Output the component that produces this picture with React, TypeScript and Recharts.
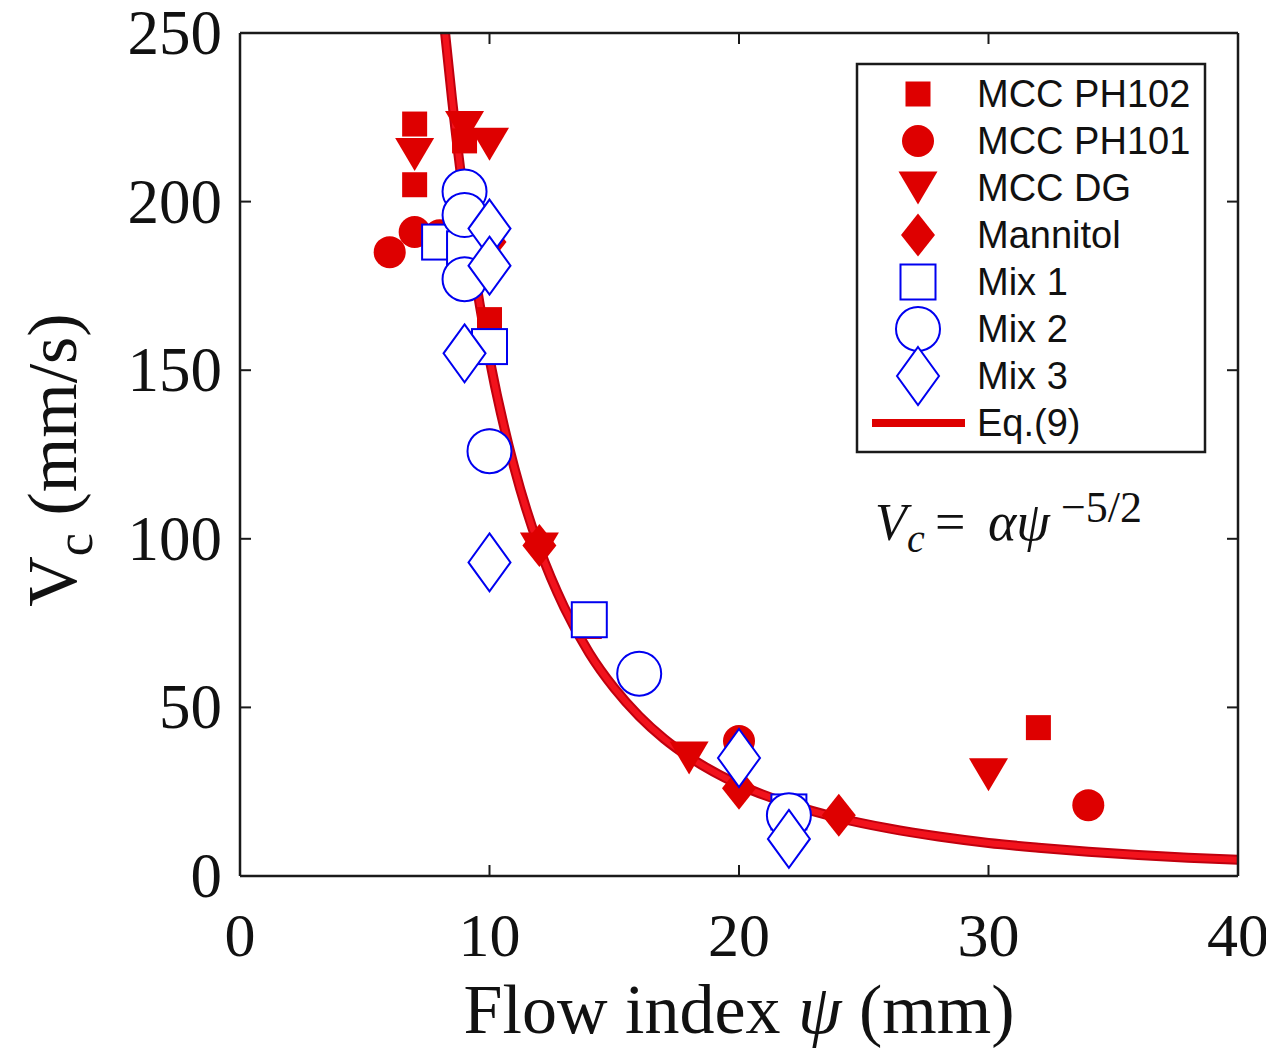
import React from "react";
import { ComposedChart, Scatter, Line, XAxis, YAxis } from "recharts";

// ---------- data ----------
const xTicks = [0, 10, 20, 30, 40];
const yTicks = [0, 50, 100, 150, 200, 250];

const mccPH102 = [
  { x: 7, y: 223 }, { x: 7, y: 205 }, { x: 9, y: 218 }, { x: 10, y: 165 },
  { x: 14, y: 74 }, { x: 32, y: 44 },
];
const mccPH101 = [
  { x: 6, y: 185 }, { x: 7, y: 191 }, { x: 8, y: 190 }, { x: 10, y: 128 },
  { x: 20, y: 40 }, { x: 34, y: 21 },
];
const mccDG = [
  { x: 7, y: 214 }, { x: 9, y: 222 }, { x: 10, y: 217 }, { x: 12, y: 97 },
  { x: 18, y: 35 }, { x: 30, y: 30 },
];
const mannitol = [
  { x: 10, y: 188 }, { x: 12, y: 98 }, { x: 20, y: 26 }, { x: 24, y: 18 },
];
const mix1 = [
  { x: 8, y: 188 }, { x: 9, y: 186 }, { x: 10, y: 157 }, { x: 14, y: 76 }, { x: 22, y: 19 },
];
const mix2 = [
  { x: 9, y: 203 }, { x: 9, y: 196 }, { x: 9, y: 177 }, { x: 10, y: 126 },
  { x: 16, y: 60 }, { x: 22, y: 18 },
];
const mix3 = [
  { x: 10, y: 192 }, { x: 10, y: 181 }, { x: 9, y: 155 }, { x: 10, y: 93 },
  { x: 20, y: 35 }, { x: 22, y: 11 },
];

// Eq.(9) curve, points
const curvePsi = [8.22, 8.5, 9, 9.5, 10, 11, 12, 13, 14, 15, 16, 17, 18, 20, 22, 24, 26, 28, 30, 32, 34, 36, 38, 40];
const curveV = [250, 230.3, 199.6, 174.3, 153.4, 120.9, 97.2, 79.6, 66.1, 55.7, 47.4, 40.7, 35.3, 27.1, 21.4, 17.2, 14.1, 11.7, 9.8, 8.4, 7.2, 6.2, 5.4, 4.8];
const curve = curvePsi.map((x, i) => ({ x, y: curveV[i] }));

const legendLabels = ["MCC PH102", "MCC PH101", "MCC DG", "Mannitol", "Mix 1", "Mix 2", "Mix 3", "Eq.(9)"];

// ---------- styles ----------
const RED = "#de0000";
const BLUE = "#0000f0";
const AXIS = "#1a1a1a";
const SERIF = "'Liberation Serif', 'Times New Roman', serif";
const SANS = "'Liberation Sans', Arial, sans-serif";

// ---------- marker shapes ----------
const FilledSquare = ({ cx, cy }: any) => <rect x={cx - 12.5} y={cy - 12.5} width={25} height={25} fill={RED} />;
const FilledCircle = ({ cx, cy }: any) => <circle cx={cx} cy={cy} r={16} fill={RED} />;
const DownTriangle = ({ cx, cy }: any) => (
  <polygon points={`${cx - 19.5},${cy - 16.5} ${cx + 19.5},${cy - 16.5} ${cx},${cy + 16.5}`} fill={RED} />
);
const FilledDiamond = ({ cx, cy }: any) => (
  <polygon points={`${cx},${cy - 21.5} ${cx + 17},${cy} ${cx},${cy + 21.5} ${cx - 17},${cy}`} fill={RED} />
);
const OpenSquare = ({ cx, cy }: any) => (
  <rect x={cx - 17.5} y={cy - 17.5} width={35} height={35} fill="#fff" stroke={BLUE} strokeWidth={2} />
);
const OpenCircle = ({ cx, cy }: any) => <circle cx={cx} cy={cy} r={22} fill="#fff" stroke={BLUE} strokeWidth={2} />;
const OpenDiamond = ({ cx, cy }: any) => (
  <polygon points={`${cx},${cy - 29} ${cx + 21},${cy} ${cx},${cy + 29} ${cx - 21},${cy}`} fill="#fff" stroke={BLUE} strokeWidth={2} />
);

// ---------- ticks ----------
const TICK = 11;
const BottomTick = ({ x, y, payload }: any) => (
  <g>
    <line x1={x} y1={y} x2={x} y2={y - TICK} stroke={AXIS} strokeWidth={2} />
    <text x={x} y={y + 80} textAnchor="middle" fontFamily={SERIF} fontSize={62} fill="#111">
      {payload.value}
    </text>
  </g>
);
const TopTick = ({ x, y }: any) => <line x1={x} y1={y} x2={x} y2={y + TICK} stroke={AXIS} strokeWidth={2} />;
const LeftTick = ({ x, y, payload }: any) => (
  <g>
    <line x1={x} y1={y} x2={x + TICK} y2={y} stroke={AXIS} strokeWidth={2} />
    <text x={x - 18} y={y} dy={21} textAnchor="end" fontFamily={SERIF} fontSize={63} fill="#111">
      {payload.value}
    </text>
  </g>
);
const RightTick = ({ x, y }: any) => <line x1={x} y1={y} x2={x - TICK} y2={y} stroke={AXIS} strokeWidth={2} />;

const legendShapes = [FilledSquare, FilledCircle, DownTriangle, FilledDiamond, OpenSquare, OpenCircle, OpenDiamond];

export default function App() {
  const W = 1266;
  const H = 1040;
  const lgX = 849, lgY = 56, lgW = 348, lgH = 388, row0 = 86, rowStep = 47, symX = 910, txtX = 969;
  return (
    <div style={{ position: "relative", width: W, height: H, background: "#fff" }}>
      <ComposedChart width={W} height={H} margin={{ top: 25, right: 36, bottom: 72, left: 0 }}>
        <XAxis
          xAxisId={0}
          type="number"
          dataKey="x"
          domain={[0, 40]}
          ticks={xTicks}
          allowDataOverflow
          height={100}
          tickSize={0}
          tickMargin={0}
          tickLine={false}
          axisLine={{ stroke: AXIS, strokeWidth: 2.5 }}
          tick={<BottomTick />}
        />
        <XAxis
          xAxisId="top"
          orientation="top"
          mirror
          type="number"
          dataKey="x"
          domain={[0, 40]}
          ticks={xTicks}
          allowDataOverflow
          tickSize={0}
          tickMargin={0}
          tickLine={false}
          axisLine={{ stroke: AXIS, strokeWidth: 2.5 }}
          tick={<TopTick />}
        />
        <YAxis
          yAxisId={0}
          type="number"
          domain={[0, 250]}
          ticks={yTicks}
          allowDataOverflow
          width={232}
          tickSize={0}
          tickMargin={0}
          tickLine={false}
          axisLine={{ stroke: AXIS, strokeWidth: 2.5 }}
          tick={<LeftTick />}
        />
        <YAxis
          yAxisId="right"
          orientation="right"
          mirror
          type="number"
          domain={[0, 250]}
          ticks={yTicks}
          allowDataOverflow
          tickSize={0}
          tickMargin={0}
          tickLine={false}
          axisLine={{ stroke: AXIS, strokeWidth: 2.5 }}
          tick={<RightTick />}
        />
        <Scatter name="MCC PH102" data={mccPH102} dataKey="y" shape={(p: any) => <FilledSquare {...p} />} isAnimationActive={false} />
        <Scatter name="MCC PH101" data={mccPH101} dataKey="y" shape={(p: any) => <FilledCircle {...p} />} isAnimationActive={false} />
        <Scatter name="MCC DG" data={mccDG} dataKey="y" shape={(p: any) => <DownTriangle {...p} />} isAnimationActive={false} />
        <Scatter name="Mannitol" data={mannitol} dataKey="y" shape={(p: any) => <FilledDiamond {...p} />} isAnimationActive={false} />
        <Scatter name="Mix 1" data={mix1} dataKey="y" shape={(p: any) => <OpenSquare {...p} />} isAnimationActive={false} />
        <Scatter name="Mix 2" data={mix2} dataKey="y" shape={(p: any) => <OpenCircle {...p} />} isAnimationActive={false} />
        <Scatter name="Mix 3" data={mix3} dataKey="y" shape={(p: any) => <OpenDiamond {...p} />} isAnimationActive={false} />
        <Line xAxisId="top" yAxisId="right" data={curve} dataKey="y" type="monotone" stroke="#c0000e" strokeWidth={10} dot={false} activeDot={false} isAnimationActive={false} />
        <Line xAxisId="top" yAxisId="right" data={curve} dataKey="y" type="monotone" stroke="#f2121c" strokeWidth={6} dot={false} activeDot={false} isAnimationActive={false} />
      </ComposedChart>

      <svg width={W} height={H} style={{ position: "absolute", left: 0, top: 0, pointerEvents: "none" }}>
        {/* axis titles */}
        <text x={731} y={1025} textAnchor="middle" fontFamily={SERIF} fontSize={70} fill="#111">
          Flow index <tspan fontStyle="italic">ψ</tspan> (mm)
        </text>
        <text
          x={68}
          y={452}
          transform="rotate(-90 68 452)"
          textAnchor="middle"
          fontFamily={SERIF}
          fontSize={70}
          fill="#111"
        >
          V<tspan dy={16} fontSize={52}>c</tspan>
          <tspan dy={-16}> (mm/s)</tspan>
        </text>

        {/* equation */}
        <g fontFamily={SERIF} fill="#111">
          <text x={867} y={532} fontSize={52} fontStyle="italic">V</text>
          <text x={899} y={544} fontSize={40} fontStyle="italic">c</text>
          <text x={927} y={532} fontSize={54}>=</text>
          <text x={980} y={532} fontSize={54} fontStyle="italic">αψ</text>
          <text x={1053} y={514} fontSize={44}>−5/2</text>
        </g>

        {/* legend */}
        <rect x={lgX} y={lgY} width={lgW} height={lgH} fill="#fff" stroke={AXIS} strokeWidth={2.5} />
        {legendLabels.map((lab, i) => {
          const cy = row0 + i * rowStep;
          const Shape = legendShapes[i];
          return (
            <g key={lab}>
              {Shape ? (
                <Shape cx={symX} cy={cy} />
              ) : (
                <line x1={864} y1={cy} x2={957} y2={cy} stroke={RED} strokeWidth={8} />
              )}
              <text x={txtX} y={cy} dy={13} fontFamily={SANS} fontSize={38} fill="#111">
                {lab}
              </text>
            </g>
          );
        })}
      </svg>
    </div>
  );
}
